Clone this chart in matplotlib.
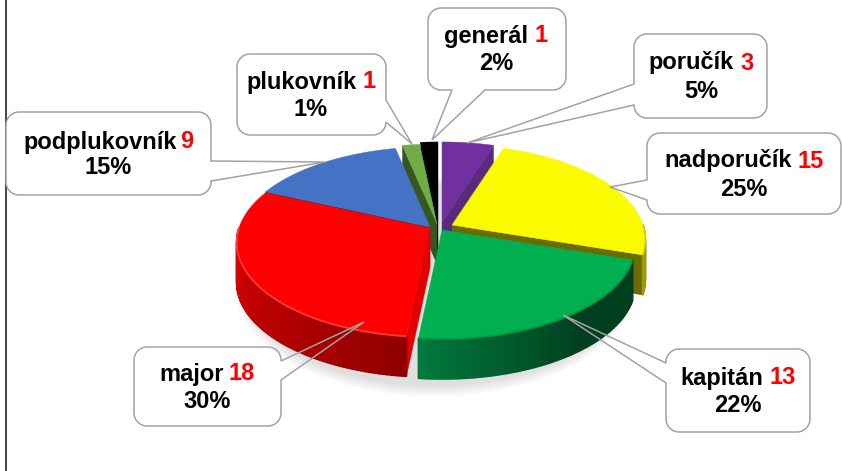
import numpy as np
import matplotlib
matplotlib.use('Agg')
import matplotlib.pyplot as plt
from matplotlib.patches import Polygon, Ellipse
from matplotlib.colors import to_rgb

# data, clockwise from 12 o'clock
ranks = ['poručík', 'nadporučík', 'kapitán', 'major', 'podplukovník', 'plukovník', 'generál']
counts = [3, 15, 13, 18, 9, 1, 1]
pct_labels = ['5%', '25%', '22%', '30%', '15%', '1%', '2%']

top_colors = ['#7030a0', '#fafa00', '#00b050', '#ff0000', '#4472c4', '#70ad47', '#000000']
cut_colors = ['#592a7e', '#6b6b00', '#004d26', '#e00000', '#1f3864', '#38571f', '#000000']
wall_left = ['#592a7e', '#a0a000', '#007a3c', '#e00000', '#1f3864', '#38571f', '#000000']
wall_right = ['#592a7e', '#808000', '#003f1f', '#8f0000', '#1f3864', '#38571f', '#000000']

# layout in pixels
apex = [(442, 222), (452, 225), (442, 230), (430, 228), (430, 227), (437, 224), (438, 222)]
draw_order = [0, 6, 5, 4, 1, 3, 2]
RX, RY, K, DEPTH = 191, 92.3, 0.153, 40

boxes = [(634, 34, 767, 118), (647, 133, 841, 214), (666, 349, 810, 432), (134, 347, 281, 426),
         (6, 112, 211, 195), (237, 54, 386, 135), (428, 8, 566, 90)]
tails = [('left', 84, 105, (467, 143)), ('left', 180, 200, (610, 187)), ('left', 363, 383, (563, 315)),
         ('right', 361, 380, (364, 322)), ('right', 161, 181, (325, 162)), ('right', 100, 122, (412, 144)),
         ('bottom', 452, 485, (432, 140))]
text_pos = [(701, 63, 91), (744, 161, 189), (738, 378, 405), (207, 374, 401),
            (108, 142, 168), (311, 82, 109), (496, 36, 63)]
gaps = [6, 6, 6, 5, 3, 6, 6]

plt.rcParams['font.family'] = ['Liberation Sans', 'DejaVu Sans']

fig = plt.figure(figsize=(8.42, 4.71), dpi=100)
ax = fig.add_axes([0, 0, 1, 1])
ax.set_xlim(0, 842)
ax.set_ylim(471, 0)
ax.axis('off')


def rim(center, theta):
    # point on the perspective ellipse, theta in degrees clockwise from top
    t = np.radians(theta)
    u, v = np.sin(t), -np.cos(t)
    d = 1 - K * v
    return center[0] + RX * u / d, center[1] + RY * v / d


def rounded_box(x0, y0, x1, y1, tail=None, r=13):
    def arc(cx, cy, a0, a1):
        return [(cx + r * np.cos(a), cy + r * np.sin(a)) for a in np.radians(np.linspace(a0, a1, 10))]
    pts = arc(x0 + r, y0 + r, 180, 270) + arc(x1 - r, y0 + r, 270, 360)
    if tail and tail[0] == 'right':
        pts += [(x1, tail[1]), tail[3], (x1, tail[2])]
    pts += arc(x1 - r, y1 - r, 0, 90)
    if tail and tail[0] == 'bottom':
        pts += [(tail[2], y1), tail[3], (tail[1], y1)]
    pts += arc(x0 + r, y1 - r, 90, 180)
    if tail and tail[0] == 'left':
        pts += [(x0, tail[2]), tail[3], (x0, tail[1])]
    return pts


# left border of the slide
ax.plot([5.5, 5.5], [0, 471], color='#222222', lw=1.2, zorder=1)

# soft shadow below the pie
for i in range(8):
    ax.add_patch(Ellipse((435, 286), 2 * (190 + 1.5 * i), 2 * (100 + 1.5 * i), color='black', alpha=0.016, lw=0, zorder=1))

# wedge angles come from the counts
total = sum(counts)
ends = np.cumsum(counts) / total * 360
starts = np.r_[0, ends[:-1]]

z = 2
for i in draw_order:
    a0, a1 = starts[i], ends[i]
    c = apex[i]
    thetas = np.linspace(a0, a1, max(int(a1 - a0) * 2, 6))
    top = [c] + [rim(c, t) for t in thetas]

    # cut faces turned towards the viewer
    for edge, visible in ((a0, 180 < a0 < 360), (a1, 0 < a1 < 180)):
        if visible:
            p = rim(c, edge)
            quad = [c, p, (p[0], p[1] + DEPTH), (c[0], c[1] + DEPTH)]
            ax.add_patch(Polygon(quad, fc=cut_colors[i], ec=cut_colors[i], lw=0.3, zorder=z))
            z += 1

    # outer wall, shaded in strips
    lo, hi = max(a0, 90), min(a1, 270)
    if hi > lo:
        wall = np.linspace(lo, hi, int(hi - lo) + 2)
        left, right = np.array(to_rgb(wall_left[i])), np.array(to_rgb(wall_right[i]))
        for t0, t1 in zip(wall[:-1], wall[1:]):
            f = (t0 - lo) / (hi - lo)
            if i == 2:
                f = min(1, (hi - t0) / 45)
            else:
                f = 1 - f
            col = left + (right - left) * f
            p0, p1 = rim(c, t0), rim(c, t1)
            ax.add_patch(Polygon([p0, p1, (p1[0], p1[1] + DEPTH), (p0[0], p0[1] + DEPTH)],
                                 fc=col, ec=col, lw=1.2, joinstyle='round', zorder=z))
        z += 1

    ax.add_patch(Polygon(top, fc=top_colors[i], ec=top_colors[i], lw=0.3, zorder=z))
    z += 1

    # bevel along the front rim
    if hi > lo:
        wall = np.linspace(lo, hi, 60)
        xy = np.array([rim(c, t) for t in wall])
        bevel = {2: '#009a45', 3: '#ff3a3a', 1: '#d8d800'}[i]
        ax.plot(xy[:, 0], xy[:, 1], color=bevel, lw=1.3, zorder=z, solid_capstyle='butt')
        z += 1

# callouts
renderer = fig.canvas.get_renderer()
FS = 17
for name, n, pct, box, tail, pos, gap in zip(ranks, counts, pct_labels, boxes, tails, text_pos, gaps):
    ax.add_patch(Polygon(rounded_box(*box), fc='white', ec='none', zorder=50))
    ax.add_patch(Polygon(rounded_box(*box, tail=tail), fc='none', ec='#a3a3a3', lw=1.1, zorder=51))
    t1 = ax.text(0, pos[1], name, fontsize=FS, fontweight='bold', color='black', va='center', ha='left', zorder=52)
    t2 = ax.text(0, pos[1], str(n), fontsize=FS, fontweight='bold', color='#ff0000', va='center', ha='left', zorder=52)
    w1 = t1.get_window_extent(renderer).width
    w2 = t2.get_window_extent(renderer).width
    x = pos[0] - (w1 + gap + w2) / 2
    t1.set_x(x)
    t2.set_x(x + w1 + gap)
    ax.text(pos[0], pos[2], pct, fontsize=FS, fontweight='bold', color='black', va='center', ha='center', zorder=52)

fig.savefig('out.png', dpi=100)
